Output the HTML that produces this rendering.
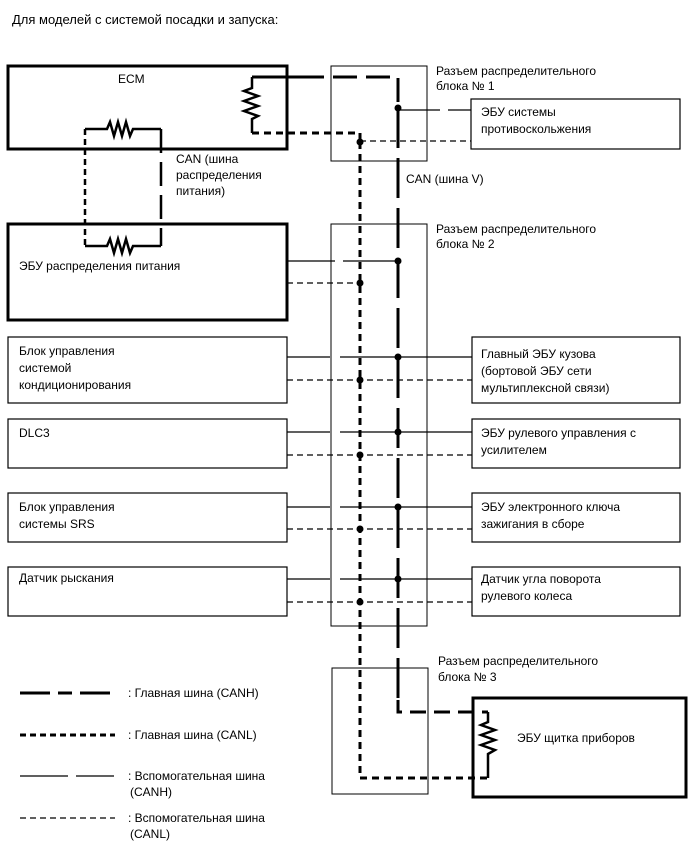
<!DOCTYPE html>
<html><head><meta charset="utf-8"><style>
body{margin:0;background:#fff}
svg text{font-family:"Liberation Sans",Arial,sans-serif;font-size:12px;fill:#000}
</style></head><body>
<svg width="689" height="853" viewBox="0 0 689 853" xmlns="http://www.w3.org/2000/svg">
<text x="12" y="24" style="font-size:13px">Для моделей с системой посадки и запуска:</text>
<g fill="none" stroke="#000">
<!-- junction blocks -->
<rect x="331" y="66" width="96" height="95" stroke-width="1"/>
<rect x="331" y="224" width="96" height="402" stroke-width="1"/>
<rect x="332" y="668" width="96" height="126" stroke-width="1"/>
<!-- main boxes -->
<rect x="8" y="66" width="279" height="83" stroke-width="3"/>
<rect x="8" y="224" width="279" height="96" stroke-width="3"/>
<rect x="473" y="698" width="213" height="99" stroke-width="3"/>
<!-- right boxes -->
<rect x="471" y="99" width="209" height="50" stroke-width="1.2"/>
<rect x="472" y="337" width="208" height="66" stroke-width="1.2"/>
<rect x="472" y="419" width="208" height="49" stroke-width="1.2"/>
<rect x="472" y="493" width="208" height="49" stroke-width="1.2"/>
<rect x="472" y="567" width="208" height="49" stroke-width="1.2"/>
<!-- left boxes -->
<rect x="8" y="337" width="279" height="66" stroke-width="1.2"/>
<rect x="8" y="419" width="279" height="49" stroke-width="1.2"/>
<rect x="8" y="493" width="279" height="49" stroke-width="1.2"/>
<rect x="8" y="567" width="279" height="49" stroke-width="1.2"/>
<!-- ECM resistor -->
<path d="M252 77 V88 L244 91 L258 96 L244 101 L258 106 L244 111 L258 116 L252 119 V133" stroke-width="2.5"/>
<path d="M252 77 H300" stroke-width="3"/>
<path d="M300 77 H398 V108" stroke-width="3" stroke-dasharray="24,9"/>
<path d="M252 133 H360 V142" stroke-width="3" stroke-dasharray="7,5"/>
<!-- main vertical buses -->
<path d="M398 108 V700" stroke-width="3" stroke-dasharray="40,10"/>
<path d="M360 142 V778" stroke-width="3" stroke-dasharray="7,5"/>
<!-- power resistors -->
<path d="M85 129 H107 L110 122 L114 136 L118 122 L122 136 L126 122 L130 136 L133 129 H161" stroke-width="2.5"/>
<path d="M85 246 H107 L110 239 L114 253 L118 239 L122 253 L126 239 L130 253 L133 246 H161" stroke-width="2.5"/>
<path d="M85 129 V246" stroke-width="2.5" stroke-dasharray="6,4"/>
<path d="M161 129 V246" stroke-width="2.5" stroke-dasharray="24,9"/>
<!-- sub lines -->
<g stroke-width="1.2">
<path d="M398 110 H440 M448 110 H471" stroke-dasharray="none"/>
<path d="M360 141 H471" stroke-dasharray="6,4"/>
<path d="M287 261 H335 M343 261 H398"/>
<path d="M287 283 H360" stroke-dasharray="6,4"/>
<path d="M287 357 H330 M340 357 H472"/>
<path d="M287 380 H472" stroke-dasharray="6,4"/>
<path d="M287 432 H330 M340 432 H472"/>
<path d="M287 455 H472" stroke-dasharray="6,4"/>
<path d="M287 507 H330 M340 507 H472"/>
<path d="M287 529 H472" stroke-dasharray="6,4"/>
<path d="M287 579 H330 M340 579 H472"/>
<path d="M287 602 H472" stroke-dasharray="6,4"/>
</g>
<!-- JB3 connections -->
<path d="M398 700 V712 H488" stroke-width="3" stroke-dasharray="16,8"/>
<path d="M488 712 V722 L481 725 L495 730 L481 735 L495 740 L481 745 L495 750 L488 754 V778" stroke-width="2.5"/>
<path d="M360 778 H488" stroke-width="3" stroke-dasharray="7,5"/>
<!-- legend -->
<path d="M20 693 H115" stroke-width="3" stroke-dasharray="30,8,14,8"/>
<path d="M20 735 H115" stroke-width="3" stroke-dasharray="6,4"/>
<path d="M20 776 H68 M76 776 H114" stroke-width="1.2"/>
<path d="M20 818 H115" stroke-width="1.2" stroke-dasharray="6,4"/>
</g>
<g fill="#000">
<circle cx="398" cy="108" r="3.5"/><circle cx="360" cy="142" r="3.5"/>
<circle cx="398" cy="261" r="3.5"/><circle cx="360" cy="283" r="3.5"/>
<circle cx="398" cy="357" r="3.5"/><circle cx="360" cy="380" r="3.5"/>
<circle cx="398" cy="432" r="3.5"/><circle cx="360" cy="455" r="3.5"/>
<circle cx="398" cy="507" r="3.5"/><circle cx="360" cy="529" r="3.5"/>
<circle cx="398" cy="579" r="3.5"/><circle cx="360" cy="602" r="3.5"/>
</g>
<text x="118" y="83">ECM</text>
<text x="176" y="163">CAN (шина</text>
<text x="176" y="179">распределения</text>
<text x="176" y="195">питания)</text>
<text x="406" y="183">CAN (шина V)</text>
<text x="436" y="75">Разъем распределительного</text>
<text x="436" y="90">блока № 1</text>
<text x="436" y="233">Разъем распределительного</text>
<text x="436" y="248">блока № 2</text>
<text x="438" y="665">Разъем распределительного</text>
<text x="438" y="681">блока № 3</text>
<text x="481" y="116">ЭБУ системы</text>
<text x="481" y="133">противоскольжения</text>
<text x="19" y="270">ЭБУ распределения питания</text>
<text x="19" y="355">Блок управления</text>
<text x="19" y="372">системой</text>
<text x="19" y="389">кондиционирования</text>
<text x="481" y="358">Главный ЭБУ кузова</text>
<text x="481" y="375">(бортовой ЭБУ сети</text>
<text x="481" y="392">мультиплексной связи)</text>
<text x="19" y="437">DLC3</text>
<text x="481" y="437">ЭБУ рулевого управления с</text>
<text x="481" y="454">усилителем</text>
<text x="19" y="511">Блок управления</text>
<text x="19" y="528">системы SRS</text>
<text x="481" y="511">ЭБУ электронного ключа</text>
<text x="481" y="528">зажигания в сборе</text>
<text x="19" y="582">Датчик рыскания</text>
<text x="481" y="583">Датчик угла поворота</text>
<text x="481" y="600">рулевого колеса</text>
<text x="517" y="742">ЭБУ щитка приборов</text>
<text x="128" y="697">: Главная шина (CANH)</text>
<text x="128" y="739">: Главная шина (CANL)</text>
<text x="128" y="780">: Вспомогательная шина</text>
<text x="130" y="796">(CANH)</text>
<text x="128" y="822">: Вспомогательная шина</text>
<text x="130" y="838">(CANL)</text>
</svg>
</body></html>
